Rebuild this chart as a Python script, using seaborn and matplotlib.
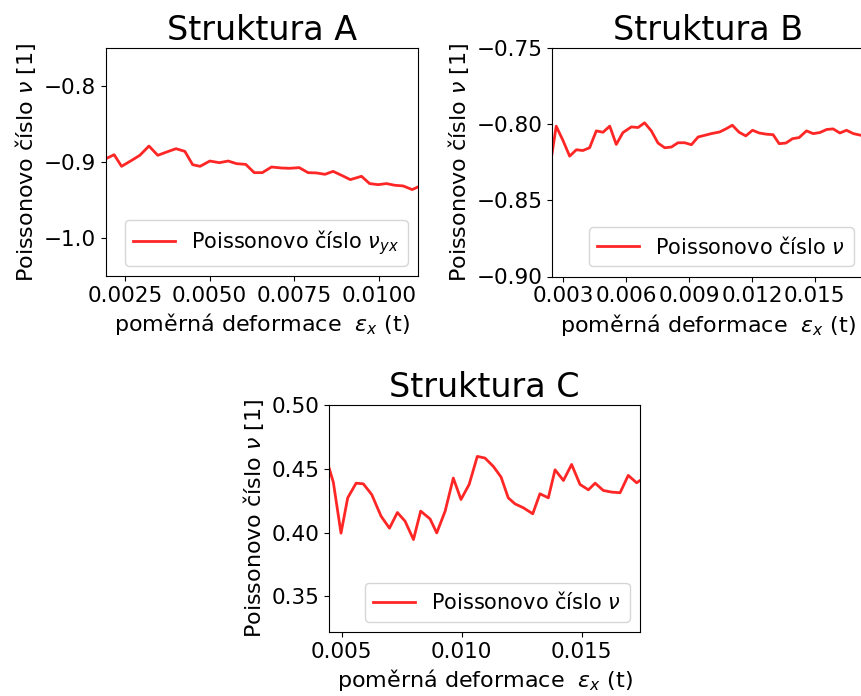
import matplotlib
matplotlib.use("Agg")
import matplotlib.pyplot as plt
import seaborn as sns

# Struktura A
strain_a = [0.00194, 0.00218, 0.00240, 0.00270, 0.00294, 0.00321, 0.00347, 0.00373,
            0.00401, 0.00427, 0.00450, 0.00472, 0.00501, 0.00529, 0.00555, 0.00580,
            0.00607, 0.00632, 0.00656, 0.00683, 0.00713, 0.00737, 0.00765, 0.00791,
            0.00816, 0.00841, 0.00865, 0.00890, 0.00916, 0.00949, 0.00973, 0.00998,
            0.01023, 0.01047, 0.01072, 0.01099, 0.01116]
nu_a = [-0.8956, -0.8904, -0.9057, -0.8978, -0.8912, -0.8790, -0.8912, -0.8869,
        -0.8825, -0.8860, -0.9035, -0.9057, -0.8987, -0.9009, -0.8987, -0.9022,
        -0.9031, -0.9140, -0.9140, -0.9066, -0.9079, -0.9083, -0.9074, -0.9140,
        -0.9144, -0.9162, -0.9123, -0.9175, -0.9232, -0.9188, -0.9284, -0.9298,
        -0.9284, -0.9306, -0.9315, -0.9363, -0.9328]

# Struktura B
strain_b = [0.00248, 0.00268, 0.00300, 0.00332, 0.00364, 0.00395, 0.00427, 0.00459,
            0.00491, 0.00523, 0.00554, 0.00586, 0.00626, 0.00658, 0.00689, 0.00721,
            0.00753, 0.00785, 0.00817, 0.00848, 0.00880, 0.00912, 0.00944, 0.00976,
            0.01007, 0.01047, 0.01079, 0.01107, 0.01139, 0.01171, 0.01203, 0.01235,
            0.01270, 0.01301, 0.01330, 0.01362, 0.01394, 0.01425, 0.01460, 0.01492,
            0.01524, 0.01556, 0.01587, 0.01619, 0.01651, 0.01683, 0.01719]
nu_b = [-0.8195, -0.8013, -0.8106, -0.8210, -0.8168, -0.8173, -0.8155, -0.8044,
        -0.8053, -0.8013, -0.8133, -0.8055, -0.8018, -0.8022, -0.7991, -0.8044,
        -0.8124, -0.8155, -0.8150, -0.8122, -0.8122, -0.8135, -0.8084, -0.8073,
        -0.8062, -0.8051, -0.8029, -0.8007, -0.8053, -0.8077, -0.8040, -0.8058,
        -0.8066, -0.8069, -0.8128, -0.8124, -0.8095, -0.8088, -0.8044, -0.8062,
        -0.8055, -0.8035, -0.8031, -0.8058, -0.8040, -0.8062, -0.8073]

# Struktura C
strain_c = [0.00447, 0.00465, 0.00497, 0.00525, 0.00560, 0.00590, 0.00625, 0.00664,
            0.00699, 0.00732, 0.00764, 0.00799, 0.00829, 0.00868, 0.00896, 0.00931,
            0.00965, 0.00997, 0.01031, 0.01065, 0.01097, 0.01132, 0.01164, 0.01194,
            0.01222, 0.01257, 0.01296, 0.01326, 0.01361, 0.01389, 0.01424, 0.01458,
            0.01493, 0.01528, 0.01556, 0.01590, 0.01625, 0.01660, 0.01694, 0.01729,
            0.01743]
nu_c = [0.4508, 0.4395, 0.3995, 0.4272, 0.4387, 0.4382, 0.4298, 0.4128,
        0.4034, 0.4157, 0.4089, 0.3945, 0.4168, 0.4107, 0.3997, 0.4168,
        0.4427, 0.4259, 0.4377, 0.4597, 0.4584, 0.4518, 0.4435, 0.4272,
        0.4225, 0.4194, 0.4147, 0.4304, 0.4272, 0.4492, 0.4408, 0.4534,
        0.4377, 0.4335, 0.4387, 0.4330, 0.4317, 0.4312, 0.4448, 0.4390,
        0.4408]

titles = ["Struktura A", "Struktura B", "Struktura C"]
legend_labels = [r"Poissonovo číslo $\nu_{yx}$", r"Poissonovo číslo $\nu$",
                 r"Poissonovo číslo $\nu$"]
xticks_a = [0.0025, 0.0050, 0.0075, 0.0100]
xticks_b = [0.003, 0.006, 0.009, 0.012, 0.015]
xticks_c = [0.005, 0.010, 0.015]
yticks_a = [-0.8, -0.9, -1.0]
yticks_b = [-0.75, -0.80, -0.85, -0.90]
yticks_c = [0.35, 0.40, 0.45, 0.50]

W, H = 861, 696
fig = plt.figure(figsize=(W / 100, H / 100), dpi=100)


def px_axes(left, top, right, bottom):
    return fig.add_axes([left / W, 1 - bottom / H, (right - left) / W, (bottom - top) / H])


panels = [
    (px_axes(106, 48, 418, 276), strain_a, nu_a, xticks_a, "{:.4f}", yticks_a, "{:.1f}",
     (strain_a[0], strain_a[-1]), (-1.05, -0.75)),
    (px_axes(552, 48, 864, 276.5), strain_b, nu_b, xticks_b, "{:.3f}", yticks_b, "{:.2f}",
     (0.00248, 0.01734), (-0.90, -0.75)),
    (px_axes(329, 405, 640, 632), strain_c, nu_c, xticks_c, "{:.3f}", yticks_c, "{:.2f}",
     (strain_c[0], strain_c[-1]), (0.322, 0.50)),
]

for (ax, xs, ys, xt, xfmt, yt, yfmt, xlim, ylim), title, lab in zip(panels, titles, legend_labels):
    sns.lineplot(x=xs, y=ys, ax=ax, color="red", alpha=0.85, linewidth=2, label=lab)
    ax.set_xlim(*xlim)
    ax.set_ylim(*ylim)
    ax.set_xticks(xt)
    ax.set_xticklabels([xfmt.format(v) for v in xt])
    ax.set_yticks(yt)
    ax.set_yticklabels([yfmt.format(v).replace("-", "\u2212") for v in yt])
    ax.tick_params(labelsize=15.5)
    ax.set_title(title, fontsize=24)
    ax.set_xlabel(r"poměrná deformace  $\varepsilon_x$ (t)", fontsize=16)
    ax.set_ylabel(r"Poissonovo číslo $\nu$ [1]", fontsize=16)
    ax.legend(loc="lower right", fontsize=15)

fig.savefig("out.png", dpi=100)
